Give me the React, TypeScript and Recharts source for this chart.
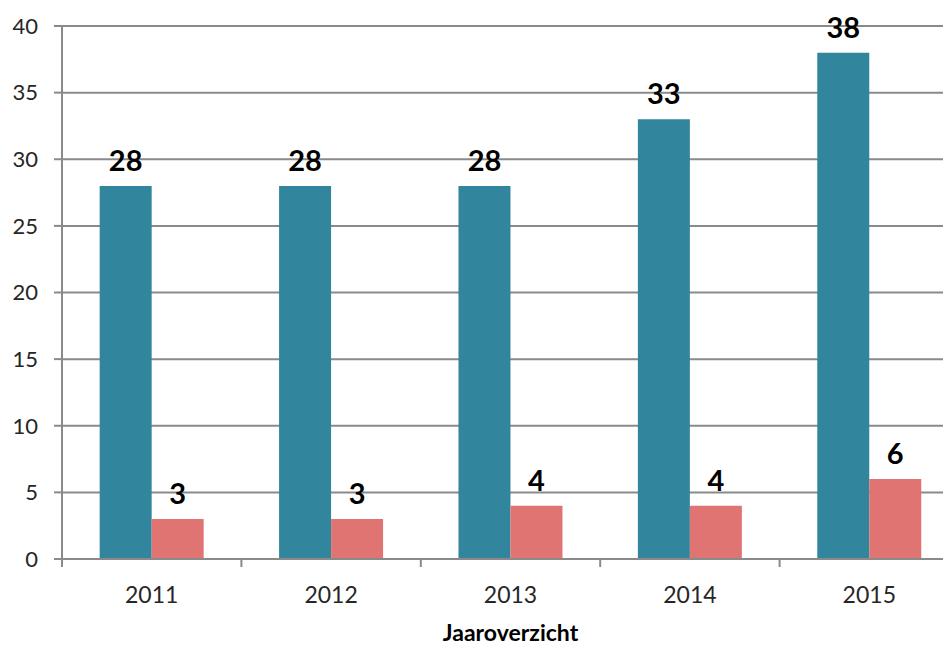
import * as React from 'react'
import { Bar, BarChart, CartesianGrid, LabelList, XAxis, YAxis } from 'recharts'

const YEARS = ['2011', '2012', '2013', '2014', '2015']
const BLUE_VALUES = [28, 28, 28, 33, 38]
const RED_VALUES = [3, 3, 4, 4, 6]
const Y_TICKS = [0, 5, 10, 15, 20, 25, 30, 35, 40]
const AXIS_TITLE = 'Jaaroverzicht'

const FONT = 'Lato, "Open Sans", "Liberation Sans", sans-serif'
const GRID = '#8a8a8a'
const CHART_W = 959
const CHART_H = 646
const Y_W = 62
const BAND = (CHART_W - Y_W) / YEARS.length

const data = YEARS.map((year, i) => ({ year, a: BLUE_VALUES[i], b: RED_VALUES[i] }))

function YearTick({ x, y, payload, index }: any): React.JSX.Element {
  return (
    <g>
      <line x1={x - BAND / 2} x2={x - BAND / 2} y1={y - 8} y2={y} stroke={GRID} strokeWidth={2} />
      {index === YEARS.length - 1 && (
        <line x1={x + BAND / 2} x2={x + BAND / 2} y1={y - 8} y2={y} stroke={GRID} strokeWidth={2} />
      )}
      <text x={x} y={y + 36} textAnchor="middle" fontFamily={FONT} fontSize={23} fill="#262626">
        {payload.value}
      </text>
      {index === 2 && (
        <text x={x} y={y + 74} textAnchor="middle" fontFamily={FONT} fontSize={23} fontWeight="bold" fill="#000">
          {AXIS_TITLE}
        </text>
      )}
    </g>
  )
}

export default function App(): React.JSX.Element {
  return (
    <div style={{ margin: '-8px 0 0 -8px', width: 951, height: 646, overflow: 'hidden' }}>
      <BarChart
        width={CHART_W}
        height={CHART_H}
        data={data}
        margin={{ top: 26, right: 0, bottom: 0, left: 0 }}
        barCategoryGap="21%"
        barGap={0}
      >
        <CartesianGrid stroke={GRID} strokeWidth={2} vertical={false} />
        <XAxis
          dataKey="year"
          height={87}
          axisLine={{ stroke: GRID, strokeWidth: 2 }}
          tickLine={false}
          tick={<YearTick />}
          interval={0}
          padding={{ left: 0, right: 0 }}
        />
        <YAxis
          width={Y_W}
          domain={[0, 40]}
          ticks={Y_TICKS}
          interval={0}
          axisLine={{ stroke: GRID, strokeWidth: 2 }}
          tickLine={{ stroke: GRID, strokeWidth: 2 }}
          tickSize={8}
          tickMargin={16}
          tick={{ fontFamily: FONT, fontSize: 22, fill: '#262626' }}
        />
        <Bar dataKey="a" fill="#31859c" isAnimationActive={false}>
          <LabelList dataKey="a" position="top" offset={15} fontFamily={FONT} fontSize={29} fontWeight="bold" fill="#000" />
        </Bar>
        <Bar dataKey="b" fill="#e07473" isAnimationActive={false}>
          <LabelList dataKey="b" position="top" offset={15} fontFamily={FONT} fontSize={29} fontWeight="bold" fill="#000" />
        </Bar>
      </BarChart>
    </div>
  )
}
